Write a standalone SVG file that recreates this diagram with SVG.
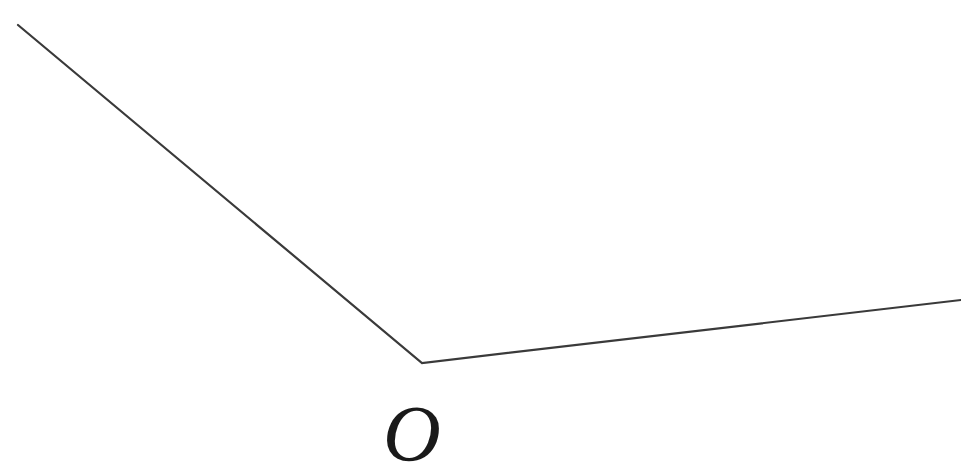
<svg xmlns="http://www.w3.org/2000/svg" width="961" height="472" viewBox="0 0 961 472">
<style>
.ray{fill:none;stroke:#3a3a3a;stroke-width:2.2;stroke-linecap:round;stroke-linejoin:miter}
.lbl{font-family:"Liberation Serif","Times New Roman",serif;font-style:italic;font-size:80px;fill:#1a1a1a}
</style>
<rect width="961" height="472" fill="#ffffff"/>
<g id="connectors">
<polyline class="ray" points="18,25 422,363 961,300"/>
</g>
<g id="O">
<text class="lbl" x="412" y="461" text-anchor="middle">O</text>
</g>
</svg>
